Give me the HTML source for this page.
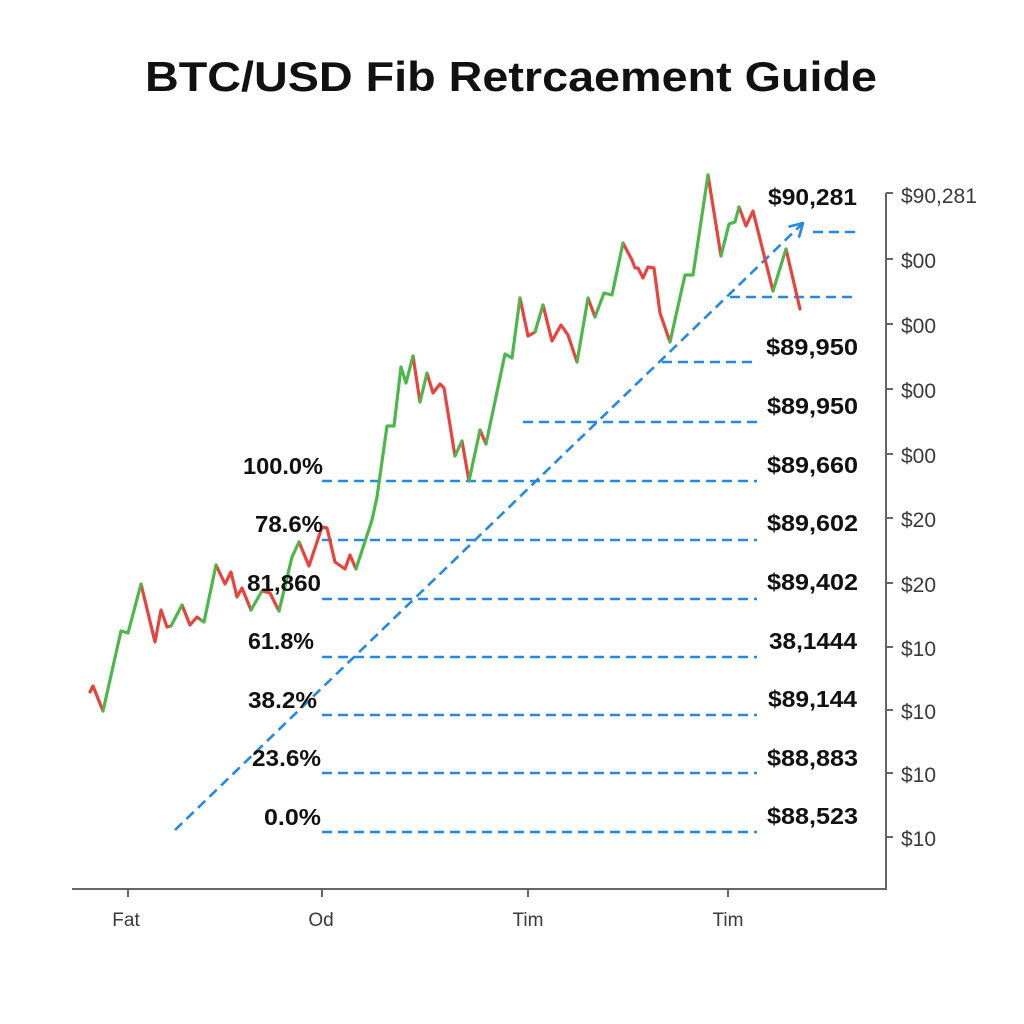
<!DOCTYPE html>
<html><head><meta charset="utf-8"><style>
html,body{margin:0;padding:0;background:#fff;}
svg{display:block;}
text{font-family:"Liberation Sans",Arial,sans-serif;}
</style></head><body>
<svg width="1024" height="1024" viewBox="0 0 1024 1024" xmlns="http://www.w3.org/2000/svg">
<rect width="1024" height="1024" fill="#fff"/>
<text x="511" y="91" text-anchor="middle" font-size="42" font-weight="bold" fill="#111" textLength="732" lengthAdjust="spacingAndGlyphs">BTC/USD Fib Retrcaement Guide</text>

<!-- axes -->
<g stroke="#666" stroke-width="2" fill="none">
<line x1="72" y1="889" x2="887" y2="889"/>
<line x1="886" y1="193" x2="886" y2="890"/>
<line x1="886" y1="193" x2="893" y2="193"/>
<line x1="886" y1="259" x2="893" y2="259"/>
<line x1="886" y1="324" x2="893" y2="324"/>
<line x1="886" y1="389" x2="893" y2="389"/>
<line x1="886" y1="454" x2="893" y2="454"/>
<line x1="886" y1="518" x2="893" y2="518"/>
<line x1="886" y1="583" x2="893" y2="583"/>
<line x1="886" y1="647" x2="893" y2="647"/>
<line x1="886" y1="710" x2="893" y2="710"/>
<line x1="886" y1="773" x2="893" y2="773"/>
<line x1="886" y1="837" x2="893" y2="837"/>
<line x1="128" y1="889" x2="128" y2="897"/>
<line x1="322" y1="889" x2="322" y2="897"/>
<line x1="528" y1="889" x2="528" y2="897"/>
<line x1="728" y1="889" x2="728" y2="897"/>
</g>
<g font-size="21" fill="#3a3a3a">
<text x="901" y="203">$90,281</text>
<text x="901" y="268">$00</text>
<text x="901" y="333">$00</text>
<text x="901" y="398">$00</text>
<text x="901" y="463">$00</text>
<text x="901" y="527">$20</text>
<text x="901" y="592">$20</text>
<text x="901" y="656">$10</text>
<text x="901" y="719">$10</text>
<text x="901" y="782">$10</text>
<text x="901" y="846">$10</text>
</g>
<g font-size="19" fill="#3a3a3a" text-anchor="middle">
<text x="126" y="926">Fat</text>
<text x="321" y="926">Od</text>
<text x="528" y="926">Tim</text>
<text x="728" y="926">Tim</text>
</g>

<!-- fib dashed lines -->
<g stroke="#2388e6" stroke-width="2.6" stroke-dasharray="10 6" fill="none">
<line x1="813" y1="232" x2="858" y2="232"/>
<line x1="730" y1="297" x2="858" y2="297"/>
<line x1="662" y1="362" x2="757" y2="362"/>
<line x1="523" y1="422" x2="757" y2="422"/>
<line x1="322" y1="481" x2="757" y2="481"/>
<line x1="322" y1="540" x2="757" y2="540"/>
<line x1="322" y1="599" x2="757" y2="599"/>
<line x1="322" y1="657" x2="757" y2="657"/>
<line x1="322" y1="715" x2="757" y2="715"/>
<line x1="322" y1="773" x2="757" y2="773"/>
<line x1="322" y1="832" x2="757" y2="832"/>
<line x1="175" y1="830" x2="801" y2="225"/>
</g>
<polyline points="789.5,226.5 803,223 799.2,236.5" stroke="#2388e6" stroke-width="2.6" fill="none" stroke-linecap="round" stroke-linejoin="round"/>

<!-- price line -->
<g fill="none" stroke-width="3.2" stroke-linejoin="round" stroke-linecap="round">
<g stroke="#e8433d">
<polyline points="90,692 93,686 103,711"/>
<polyline points="141,584 155,642 161,610 167,627 171,626"/>
<polyline points="182,605 190,625 197,617 201,620"/>
<polyline points="216,565 225,584 231,572 237,597 242,588 251,610"/>
<polyline points="262,591 270,593 279,611"/>
<polyline points="299,542 309,566 322,527 327,528 335,562 345,569 350,555 356,569"/>
<polyline points="413,356 420,402"/>
<polyline points="427,373 433,393 440,384 444,388 455,456"/>
<polyline points="462,441 469,481"/>
<polyline points="480,430 486,444"/>
<polyline points="520,298 528,336 535,332"/>
<polyline points="543,305 552,341 561,325 568,335 577,362"/>
<polyline points="588,298 595,317"/>
<polyline points="623,243 632,260 635,268 638,268 643,278 648,267 654,268 660,313 670,342"/>
<polyline points="708,175 721,256"/>
<polyline points="739,207 746,226 753,211 773,291"/>
<polyline points="786,249 800,309"/>
</g>
<g stroke="#4cb84a">
<polyline points="103,711 121,631 128,633 141,584"/>
<polyline points="171,626 182,605"/>
<polyline points="201,620 204,622 216,565"/>
<polyline points="251,610 262,591"/>
<polyline points="279,611 292,557 299,542"/>
<polyline points="356,569 372,520 377,497 387,426 394,426 401,367 406,383 413,356"/>
<polyline points="420,402 427,373"/>
<polyline points="455,456 462,441"/>
<polyline points="469,481 480,430"/>
<polyline points="486,444 505,354 512,358 520,298"/>
<polyline points="535,332 543,305"/>
<polyline points="577,362 588,298"/>
<polyline points="595,317 604,293 612,295 623,243"/>
<polyline points="670,342 685,275 693,275 708,175"/>
<polyline points="721,256 729,224 735,222 739,207"/>
<polyline points="773,291 786,249"/>
</g>
</g>

<!-- left percent labels -->
<g font-size="23" font-weight="bold" fill="#111">
<text x="243" y="474" textLength="80" lengthAdjust="spacingAndGlyphs">100.0%</text>
<text x="255" y="532" textLength="68" lengthAdjust="spacingAndGlyphs">78.6%</text>
<text x="247" y="591" textLength="74" lengthAdjust="spacingAndGlyphs">81,860</text>
<text x="248" y="649" textLength="66" lengthAdjust="spacingAndGlyphs">61.8%</text>
<text x="248" y="708" textLength="69" lengthAdjust="spacingAndGlyphs">38.2%</text>
<text x="252" y="766" textLength="69" lengthAdjust="spacingAndGlyphs">23.6%</text>
<text x="264" y="825" textLength="57" lengthAdjust="spacingAndGlyphs">0.0%</text>
</g>
<!-- right value labels -->
<g font-size="23" font-weight="bold" fill="#111">
<text x="768" y="205" textLength="89" lengthAdjust="spacingAndGlyphs">$90,281</text>
<text x="766" y="355" textLength="92" lengthAdjust="spacingAndGlyphs">$89,950</text>
<text x="767" y="414" textLength="91" lengthAdjust="spacingAndGlyphs">$89,950</text>
<text x="767" y="473" textLength="91" lengthAdjust="spacingAndGlyphs">$89,660</text>
<text x="767" y="531" textLength="91" lengthAdjust="spacingAndGlyphs">$89,602</text>
<text x="767" y="590" textLength="91" lengthAdjust="spacingAndGlyphs">$89,402</text>
<text x="769" y="649" textLength="88" lengthAdjust="spacingAndGlyphs">38,1444</text>
<text x="768" y="707" textLength="89" lengthAdjust="spacingAndGlyphs">$89,144</text>
<text x="767" y="766" textLength="91" lengthAdjust="spacingAndGlyphs">$88,883</text>
<text x="767" y="824" textLength="91" lengthAdjust="spacingAndGlyphs">$88,523</text>
</g>
</svg>
</body></html>
